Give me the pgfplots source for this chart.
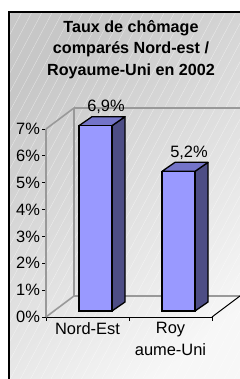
\documentclass[border=0pt]{standalone}
\usepackage{pgfplots}
\pgfplotsset{compat=1.18}
\usepackage{fontspec}
\setmainfont{Liberation Sans}
\usetikzlibrary{patterns.meta}
\definecolor{barfront}{HTML}{9999FF}
\definecolor{barside}{HTML}{4D4D85}
\definecolor{bartop}{HTML}{7474C8}
\definecolor{wallgray}{HTML}{999999}
\begin{document}
\begin{tikzpicture}[x=1bp,y=1bp]
\useasboundingbox (0,0) rectangle (240,379);
% background frame
\shade[shading=axis, top color=black!22, bottom color=black!3, shading angle=40] (9,-10) rectangle (250,367);
\fill[pattern={Lines[angle=62,distance=9bp,line width=0.35bp]}, pattern color=white, opacity=0.55] (9,-10) rectangle (250,367);
\draw[black, line width=1.3bp] (250,367) -- (9,367) -- (9,-10);
% title
\node[anchor=base, font=\fontsize{16.2}{18}\selectfont\bfseries] at (131,347) {Taux de chômage};
\node[anchor=base, font=\fontsize{16.2}{18}\selectfont\bfseries] at (131,326) {comparés Nord-est /};
\node[anchor=base, font=\fontsize{16.2}{18}\selectfont\bfseries] at (131,304) {Royaume-Uni en 2002};
% front plane axis: walls, floor, ticks
\begin{axis}[
  at={(46bp,62bp)}, anchor=south west,
  scale only axis, width=166bp, height=188bp,
  xmin=46, xmax=212, ymin=0, ymax=7,
  enlargelimits=false, clip=false,
  axis x line*=bottom, axis y line*=left,
  x axis line style={black, line width=1bp, -},
  y axis line style={wallgray, line width=1.6bp, -},
  ytick={0,1,2,3,4,5,6,7},
  yticklabel={\pgfmathprintnumber{\tick}\%},
  /pgf/number format/assume math mode=true,
  xtick={46,129,212}, xticklabels={},
  extra x ticks={87.5,170.5},
  extra x tick labels={Nord-Est,{Roy\\aume-Uni}},
  extra x tick style={major tick length=0pt, tick style={draw=none},
     xticklabel style={align=center, yshift=-2bp}},
  tick align=outside, major tick length=3.5bp,
  tick style={black, line width=0.8bp},
  ticklabel style={font=\fontsize{16.5}{22}\selectfont},
  yticklabel style={xshift=1bp},
]
% left wall and back wall edges
\addplot[wallgray, line width=1.6bp] coordinates {(46,7) (74,7.782) (74,0.782) (46,0)};
\addplot[wallgray, line width=1.6bp] coordinates {(74,7.782) (250,7.782)};
\addplot[wallgray, line width=1.2bp] coordinates {(74,0.782) (240,0.782)};
\addplot[black, line width=1bp] coordinates {(212,0) (240,0.782)};
\end{axis}
% bars plane
\begin{axis}[
  at={(54bp,68bp)}, anchor=south west,
  scale only axis, width=166bp, height=188bp,
  xmin=46, xmax=212, ymin=0, ymax=7,
  enlargelimits=false, clip=false, hide axis,
]
% side faces
\addplot[fill=barside, draw=black, line width=1.3bp, line join=round] coordinates {(104,0) (104,6.9) (117,7.235) (117,0.335)} -- cycle;
\addplot[fill=barside, draw=black, line width=1.3bp, line join=round] coordinates {(187,0) (187,5.2) (200,5.535) (200,0.335)} -- cycle;
% top faces
\addplot[fill=bartop, draw=black, line width=1.3bp, line join=round] coordinates {(71,6.9) (104,6.9) (117,7.235) (84,7.235)} -- cycle;
\addplot[fill=bartop, draw=black, line width=1.3bp, line join=round] coordinates {(154,5.2) (187,5.2) (200,5.535) (167,5.535)} -- cycle;
% front faces
\addplot[ybar, bar width=33bp, fill=barfront, draw=black, line width=1.3bp,
  nodes near coords={\pgfmathprintnumber[use comma,fixed,precision=1,fixed zerofill]{\pgfplotspointmeta}\%},
  every node near coord/.style={anchor=center, xshift=10.5bp, yshift=19bp, font=\fontsize{16.5}{18}\selectfont, black},
  /pgf/number format/assume math mode=true]
  coordinates {(87.5,6.9) (170.5,5.2)};
\end{axis}
\end{tikzpicture}
\end{document}
